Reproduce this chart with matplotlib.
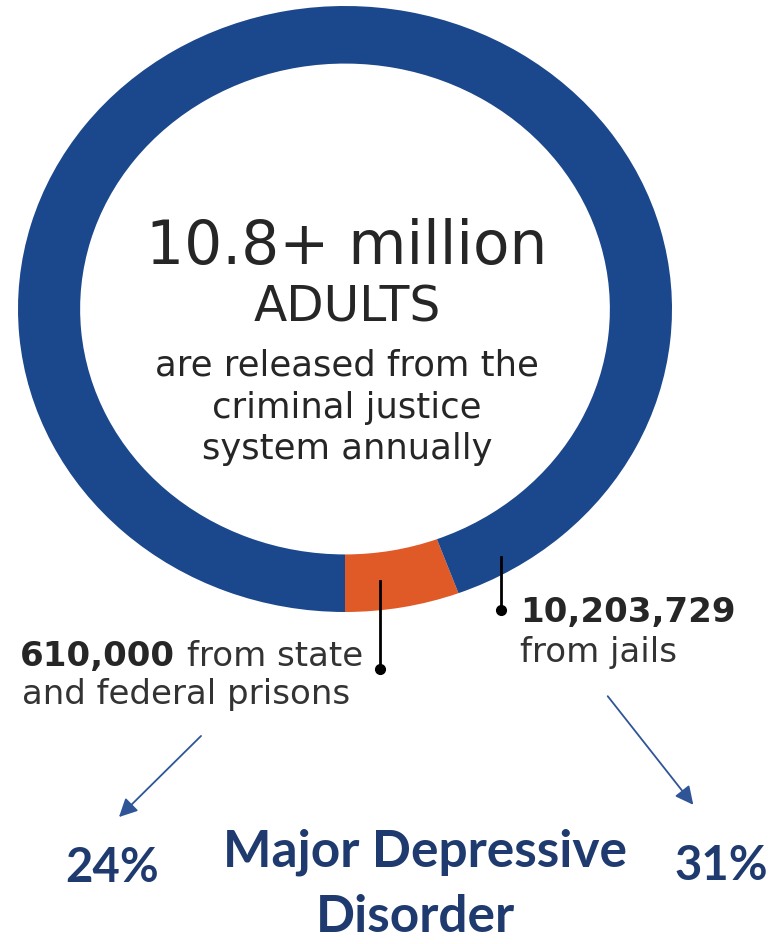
import matplotlib.pyplot as plt

# released adults, by source
sources = ["state and federal prisons", "jails"]
released = [610000, 10203729]
ring_colors = ["#E05A28", "#1B478C"]

total_label = "10.8+ million"
pct_prisons = "24%"
pct_jails = "31%"
condition = "Major Depressive\nDisorder"

W, H = 776, 945
fig = plt.figure(figsize=(W / 100, H / 100), dpi=100)

# donut (the source image is slightly stretched, so aspect is left free)
cx, cy, rx, ry = 345, 310, 327, 303
ax = fig.add_axes([(cx - rx) / W, 1 - (cy + ry) / H, 2 * rx / W, 2 * ry / H])
ax.pie(released, colors=ring_colors, startangle=270, counterclock=True,
       wedgeprops=dict(width=0.19, edgecolor="none"))
ax.set_aspect("auto")
ax.set_xlim(-1, 1)
ax.set_ylim(-1, 1)
ax.axis("off")

# overlay in pixel coordinates for text and leaders
ov = fig.add_axes([0, 0, 1, 1])
ov.set_xlim(0, W)
ov.set_ylim(H, 0)
ov.axis("off")

txt = "#262626"
sans = ["DejaVu Sans"]
ov.text(347, 264, total_label, ha="center", va="baseline", fontsize=43,
        color=txt, family=sans)
ov.text(347, 321, "ADULTS", ha="center", va="baseline", fontsize=35,
        color=txt, family=sans)
for line, yb in zip(["are released from the", "criminal justice", "system annually"],
                    [375, 418, 459]):
    ov.text(347, yb, line, ha="center", va="baseline", fontsize=25.5,
            color=txt, family=sans)

# leader lines
ov.plot([380, 380], [582, 670], color="black", lw=2)
ov.plot([380], [670], "o", color="black", ms=7)
ov.plot([501, 501], [558, 611], color="black", lw=2)
ov.plot([501], [611], "o", color="black", ms=7)

fig.canvas.draw()
renderer = fig.canvas.get_renderer()
inv = ov.transData.inverted()

def bold_then_plain(x, y, bold_part, plain_part, size):
    t = ov.text(x, y, bold_part, ha="left", va="baseline", fontsize=size,
                fontweight="bold", color=txt, family=sans)
    bb = t.get_window_extent(renderer)
    x_end = inv.transform((bb.x1, bb.y0))[0]
    ov.text(x_end + 12, y, plain_part, ha="left", va="baseline", fontsize=size,
            color="#333333", family=sans)

lab = 24.5
bold_then_plain(20, 666, f"{released[0]:,}", "from state", lab)
ov.text(22, 704, "and federal prisons", ha="left", va="baseline", fontsize=lab,
        color="#333333", family=sans)
ov.text(520, 622, f"{released[1]:,}", ha="left", va="baseline", fontsize=lab,
        fontweight="bold", color=txt, family=sans)
ov.text(520, 662, "from jails", ha="left", va="baseline", fontsize=lab,
        color="#333333", family=sans)

# arrows
arrow_c = "#2F5597"
ov.annotate("", xy=(117, 820), xytext=(203, 735),
            arrowprops=dict(arrowstyle="-|>,head_length=1.1,head_width=0.55",
                            color=arrow_c, lw=1.3))
ov.annotate("", xy=(695, 808), xytext=(606, 695),
            arrowprops=dict(arrowstyle="-|>,head_length=1.1,head_width=0.55",
                            color=arrow_c, lw=1.3))

navy = "#1F3A6E"
big = dict(fontweight="bold", color=navy, family=["Lato", "DejaVu Sans"],
           va="baseline", ha="center")
ov.text(112, 882, pct_prisons, fontsize=34, **big)
ov.text(721, 880, pct_jails, fontsize=34, **big)
ov.text(425, 867, condition.split("\n")[0], fontsize=37, **big)
ov.text(415, 932, condition.split("\n")[1], fontsize=37, **big)

fig.savefig("out.png", dpi=100)
